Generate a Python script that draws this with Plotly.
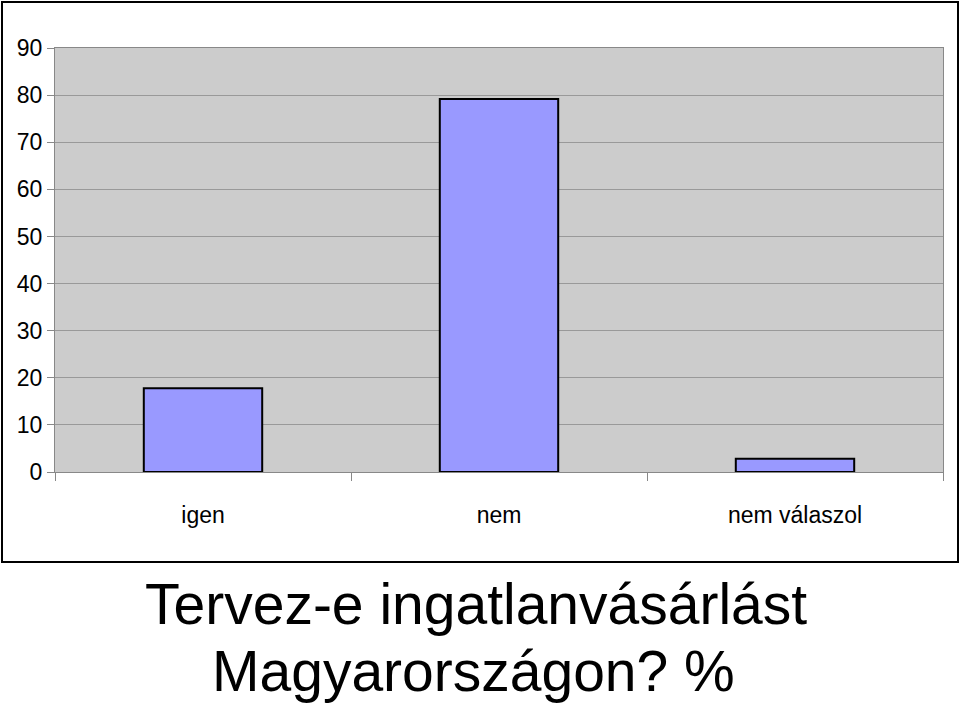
import plotly.graph_objects as go

categories = ["igen", "nem", "nem válaszol"]
values = [17.8, 79.2, 2.8]
y_ticks = [0, 10, 20, 30, 40, 50, 60, 70, 80, 90]
title_lines = ["Tervez-e ingatlanvásárlást", "Magyarországon? %"]

W, H = 960, 704
L, R, T, B = 55, 943, 48, 472
pw, ph = R - L, B - T

def px(x):
    return (x - L) / pw

def py(y):
    return (B - y) / ph

narrow = "Liberation Sans Narrow, Arial Narrow, Liberation Sans, Arial, sans-serif"
regular = "Liberation Sans, Arial, sans-serif"

fig = go.Figure(
    go.Bar(
        x=categories,
        y=values,
        width=0.4,
        marker=dict(color="#9999FF", line=dict(color="#000000", width=2)),
    )
)

fig.update_layout(
    width=W,
    height=H,
    margin=dict(l=L, r=W - R, t=T, b=H - B, pad=0),
    paper_bgcolor="#FFFFFF",
    plot_bgcolor="#CCCCCC",
    showlegend=False,
    font=dict(family=narrow, color="#000000", size=22),
)

fig.update_xaxes(
    showline=True,
    linecolor="#888888",
    linewidth=1,
    mirror=True,
    ticks="outside",
    tickson="boundaries",
    ticklen=8,
    tickcolor="#888888",
    tickfont=dict(family=narrow, size=23),
    ticklabelstandoff=22,
    showgrid=False,
)

fig.update_yaxes(
    range=[0, 90],
    tickvals=y_ticks,
    showline=True,
    linecolor="#888888",
    linewidth=1,
    mirror=True,
    ticks="outside",
    ticklen=7,
    tickcolor="#888888",
    tickfont=dict(family=narrow, size=23),
    showgrid=True,
    gridcolor="#999999",
    gridwidth=1,
    zeroline=False,
)

# outer frame
fig.add_shape(
    type="rect",
    xref="paper",
    yref="paper",
    x0=px(2),
    x1=px(958),
    y0=py(562),
    y1=py(2),
    line=dict(color="#000000", width=2),
    fillcolor="rgba(0,0,0,0)",
    layer="above",
)

fig.add_annotation(
    text=title_lines[0],
    xref="paper",
    yref="paper",
    x=px(476),
    y=py(604),
    xanchor="center",
    yanchor="middle",
    showarrow=False,
    font=dict(family=regular, size=57, color="#000000"),
)
fig.add_annotation(
    text=title_lines[1],
    xref="paper",
    yref="paper",
    x=px(473),
    y=py(671),
    xanchor="center",
    yanchor="middle",
    showarrow=False,
    font=dict(family=regular, size=57, color="#000000"),
)

fig.write_html(
    "out.html",
    config={"displayModeBar": False},
    post_script="document.body.style.margin='0';document.body.style.overflow='hidden';",
)
